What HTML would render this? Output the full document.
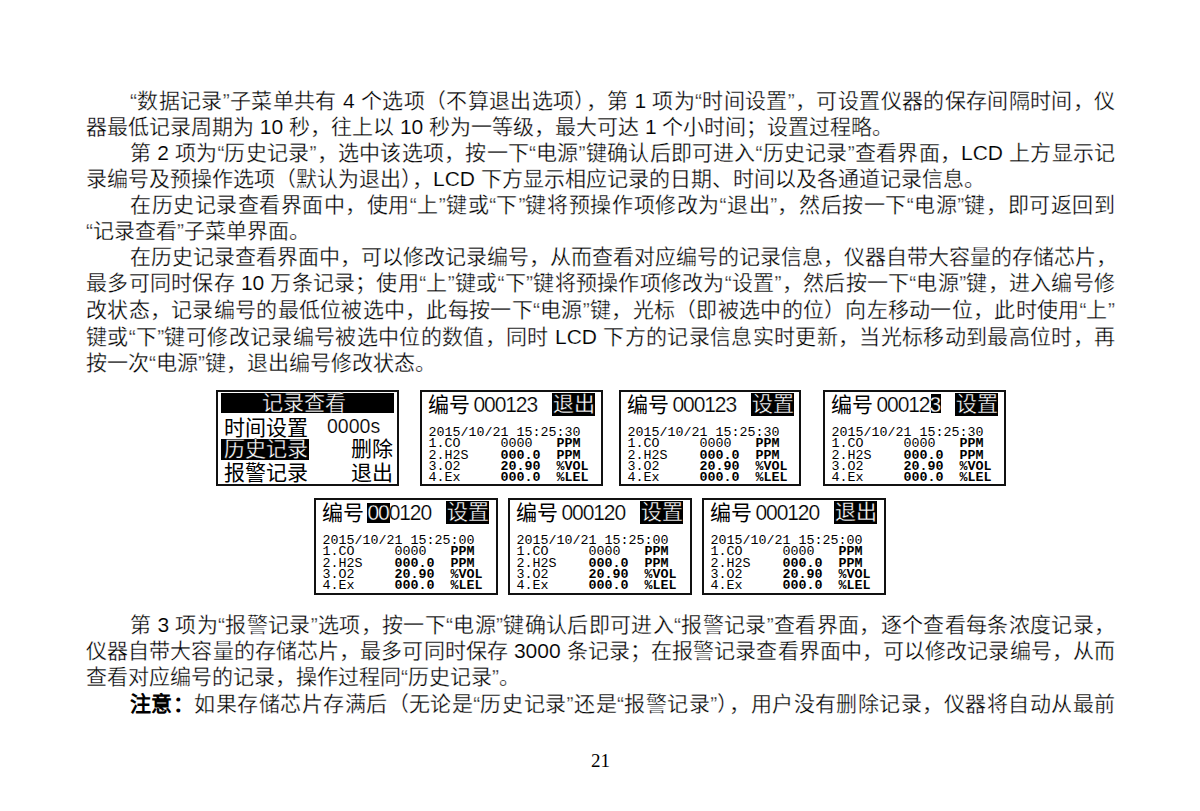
<!DOCTYPE html>
<html lang="zh-CN"><head><meta charset="utf-8">
<style>
html,body{margin:0;padding:0;background:#fff;}
body{width:1200px;height:811px;position:relative;overflow:hidden;font-family:"Liberation Sans",sans-serif;color:#000;}
.ln{position:absolute;left:86px;width:1029px;font-size:21px;line-height:26px;height:26px;white-space:nowrap;-webkit-text-stroke:0.3px #fff;}
.j{text-align:justify;text-align-last:justify;}
.i{left:130px;width:985px;}
.bx{position:absolute;box-sizing:border-box;width:183px;height:96px;border:2px solid #111;background:#fff;}
.bx .a{position:absolute;white-space:nowrap;}
.cj{font-size:21px;line-height:26px;}
.inv{background:#000;color:#fff;}
.bx .w{color:#fff;-webkit-text-stroke:0.3px #000;}
.num{font-size:21px;line-height:22px;letter-spacing:-1.1px;-webkit-text-stroke:0.2px #fff;transform:scaleY(1.08);transform-origin:0 0;}
.bx .dat{font-family:"Liberation Mono",monospace;font-size:13.33px;line-height:11.25px;white-space:pre;}
.dat i{font-style:normal;}
.dat b i{font-weight:bold;}
.ln b,.ln .l{-webkit-text-stroke:0;}
.pg{position:absolute;left:591px;top:749px;font-family:"Liberation Serif",serif;font-size:19px;line-height:24px;}
.sl{position:absolute;left:0;width:1200px;height:26px;font-size:21px;line-height:26px;white-space:pre;-webkit-text-stroke:0.3px #fff;}
.sl i{position:absolute;top:0;font-style:normal;}
.sl i.l{-webkit-text-stroke:0.15px #fff;}
.sl i.b{font-weight:bold;-webkit-text-stroke:0;}
</style></head><body>
<div class="sl" style="top:88px"><i style="left:130px">“</i><i style="left:136.98px">数</i><i style="left:158.67px">据</i><i style="left:180.02px">记</i><i style="left:201.38px">录</i><i style="left:222.72px">”</i><i style="left:229.7px">子</i><i style="left:251.41px">菜</i><i style="left:272.75px">单</i><i style="left:294.09px">共</i><i style="left:315.44px">有</i><i class="l" style="left:342.98px">4</i><i style="left:360.84px">个</i><i style="left:382.19px">选</i><i style="left:403.53px">项</i><i style="left:424.88px">（</i><i style="left:446.23px">不</i><i style="left:467.58px">算</i><i style="left:488.92px">退</i><i style="left:510.27px">出</i><i style="left:531.61px">选</i><i style="left:552.95px">项</i><i style="left:574.3px">）</i><i style="left:585.66px">，</i><i style="left:607px">第</i><i class="l" style="left:634.53px">1</i><i style="left:652.39px">项</i><i style="left:673.73px">为</i><i style="left:695.08px">“</i><i style="left:702.08px">时</i><i style="left:723.77px">间</i><i style="left:745.11px">设</i><i style="left:766.45px">置</i><i style="left:787.81px">”</i><i style="left:794.8px">，</i><i style="left:816.48px">可</i><i style="left:837.84px">设</i><i style="left:859.19px">置</i><i style="left:880.53px">仪</i><i style="left:901.88px">器</i><i style="left:923.22px">的</i><i style="left:944.56px">保</i><i style="left:965.91px">存</i><i style="left:987.27px">间</i><i style="left:1008.61px">隔</i><i style="left:1029.95px">时</i><i style="left:1051.3px">间</i><i style="left:1072.64px">，</i><i style="left:1093.98px">仪</i></div>
<div class="sl" style="top:114px"><i style="left:86px">器</i><i style="left:107px">最</i><i style="left:128px">低</i><i style="left:149px">记</i><i style="left:170px">录</i><i style="left:191px">周</i><i style="left:212px">期</i><i style="left:233px">为</i><i class="l" style="left:259.84px">10</i><i style="left:289.03px">秒</i><i style="left:310.03px">，</i><i style="left:331.03px">往</i><i style="left:352.03px">上</i><i style="left:373.03px">以</i><i class="l" style="left:399.88px">10</i><i style="left:429.06px">秒</i><i style="left:450.06px">为</i><i style="left:471.06px">一</i><i style="left:492.06px">等</i><i style="left:513.06px">级</i><i style="left:534.06px">，</i><i style="left:555.06px">最</i><i style="left:576.06px">大</i><i style="left:597.06px">可</i><i style="left:618.06px">达</i><i class="l" style="left:644.91px">1</i><i style="left:662.42px">个</i><i style="left:683.42px">小</i><i style="left:704.42px">时</i><i style="left:725.42px">间</i><i style="left:746.42px">；</i><i style="left:767.42px">设</i><i style="left:788.42px">置</i><i style="left:809.42px">过</i><i style="left:830.42px">程</i><i style="left:851.42px">略</i><i style="left:872.42px">。</i></div>
<div class="sl" style="top:140px"><i style="left:130px">第</i><i class="l" style="left:157.28px">2</i><i style="left:175.02px">项</i><i style="left:196.23px">为</i><i style="left:217.45px">“</i><i style="left:224.45px">历</i><i style="left:245.89px">史</i><i style="left:267.11px">记</i><i style="left:288.33px">录</i><i style="left:309.55px">”</i><i style="left:316.55px">，</i><i style="left:337.98px">选</i><i style="left:359.2px">中</i><i style="left:380.42px">该</i><i style="left:401.66px">选</i><i style="left:422.88px">项</i><i style="left:444.09px">，</i><i style="left:465.31px">按</i><i style="left:486.53px">一</i><i style="left:507.75px">下</i><i style="left:528.97px">“</i><i style="left:535.97px">电</i><i style="left:557.41px">源</i><i style="left:578.62px">”</i><i style="left:585.62px">键</i><i style="left:607.06px">确</i><i style="left:628.28px">认</i><i style="left:649.5px">后</i><i style="left:670.72px">即</i><i style="left:691.95px">可</i><i style="left:713.17px">进</i><i style="left:734.39px">入</i><i style="left:755.61px">“</i><i style="left:762.61px">历</i><i style="left:784.05px">史</i><i style="left:805.27px">记</i><i style="left:826.48px">录</i><i style="left:847.7px">”</i><i style="left:854.7px">查</i><i style="left:876.14px">看</i><i style="left:897.36px">界</i><i style="left:918.58px">面</i><i style="left:939.8px">，</i><i class="l" style="left:961.03px">LCD</i><i style="left:1009.09px">上</i><i style="left:1030.31px">方</i><i style="left:1051.53px">显</i><i style="left:1072.75px">示</i><i style="left:1093.98px">记</i></div>
<div class="sl" style="top:166px"><i style="left:86px">录</i><i style="left:107px">编</i><i style="left:128px">号</i><i style="left:149px">及</i><i style="left:170px">预</i><i style="left:191px">操</i><i style="left:212px">作</i><i style="left:233px">选</i><i style="left:254px">项</i><i style="left:275px">（</i><i style="left:296px">默</i><i style="left:317px">认</i><i style="left:338px">为</i><i style="left:359px">退</i><i style="left:380px">出</i><i style="left:401px">）</i><i style="left:412px">，</i><i class="l" style="left:433px">LCD</i><i style="left:480.84px">下</i><i style="left:501.84px">方</i><i style="left:522.84px">显</i><i style="left:543.84px">示</i><i style="left:564.84px">相</i><i style="left:585.84px">应</i><i style="left:606.84px">记</i><i style="left:627.84px">录</i><i style="left:648.84px">的</i><i style="left:669.84px">日</i><i style="left:690.84px">期</i><i style="left:711.84px">、</i><i style="left:732.84px">时</i><i style="left:753.84px">间</i><i style="left:774.84px">以</i><i style="left:795.84px">及</i><i style="left:816.84px">各</i><i style="left:837.84px">通</i><i style="left:858.84px">道</i><i style="left:879.84px">记</i><i style="left:900.84px">录</i><i style="left:921.84px">信</i><i style="left:942.84px">息</i><i style="left:963.84px">。</i></div>
<div class="sl" style="top:192px"><i style="left:130px">在</i><i style="left:151.52px">历</i><i style="left:173.03px">史</i><i style="left:194.56px">记</i><i style="left:216.08px">录</i><i style="left:237.59px">查</i><i style="left:259.12px">看</i><i style="left:280.64px">界</i><i style="left:302.16px">面</i><i style="left:323.69px">中</i><i style="left:345.2px">，</i><i style="left:366.72px">使</i><i style="left:388.25px">用</i><i style="left:409.77px">“</i><i style="left:416.75px">上</i><i style="left:438.8px">”</i><i style="left:445.8px">键</i><i style="left:467.83px">或</i><i style="left:489.36px">“</i><i style="left:496.34px">下</i><i style="left:518.39px">”</i><i style="left:525.39px">键</i><i style="left:547.42px">将</i><i style="left:568.95px">预</i><i style="left:590.47px">操</i><i style="left:611.98px">作</i><i style="left:633.52px">项</i><i style="left:655.03px">修</i><i style="left:676.55px">改</i><i style="left:698.08px">为</i><i style="left:719.59px">“</i><i style="left:726.59px">退</i><i style="left:748.62px">出</i><i style="left:770.16px">”</i><i style="left:777.14px">，</i><i style="left:799.19px">然</i><i style="left:820.7px">后</i><i style="left:842.22px">按</i><i style="left:863.75px">一</i><i style="left:885.27px">下</i><i style="left:906.78px">“</i><i style="left:913.78px">电</i><i style="left:935.83px">源</i><i style="left:957.34px">”</i><i style="left:964.34px">键</i><i style="left:986.38px">，</i><i style="left:1007.91px">即</i><i style="left:1029.42px">可</i><i style="left:1050.94px">返</i><i style="left:1072.47px">回</i><i style="left:1093.98px">到</i></div>
<div class="sl" style="top:218px"><i style="left:86px">“</i><i style="left:92.98px">记</i><i style="left:113.98px">录</i><i style="left:134.98px">查</i><i style="left:155.98px">看</i><i style="left:176.98px">”</i><i style="left:183.98px">子</i><i style="left:204.98px">菜</i><i style="left:225.98px">单</i><i style="left:246.98px">界</i><i style="left:267.98px">面</i><i style="left:288.98px">。</i></div>
<div class="sl" style="top:244px"><i style="left:130px">在</i><i style="left:151px">历</i><i style="left:172px">史</i><i style="left:193px">记</i><i style="left:214px">录</i><i style="left:235px">查</i><i style="left:256px">看</i><i style="left:277px">界</i><i style="left:298px">面</i><i style="left:319px">中</i><i style="left:340px">，</i><i style="left:361px">可</i><i style="left:382px">以</i><i style="left:403px">修</i><i style="left:424px">改</i><i style="left:445px">记</i><i style="left:466px">录</i><i style="left:487px">编</i><i style="left:508px">号</i><i style="left:529px">，</i><i style="left:550px">从</i><i style="left:571px">而</i><i style="left:592px">查</i><i style="left:613px">看</i><i style="left:634px">对</i><i style="left:655px">应</i><i style="left:676px">编</i><i style="left:697px">号</i><i style="left:718px">的</i><i style="left:739px">记</i><i style="left:760px">录</i><i style="left:781px">信</i><i style="left:802px">息</i><i style="left:823px">，</i><i style="left:844px">仪</i><i style="left:865px">器</i><i style="left:886px">自</i><i style="left:907px">带</i><i style="left:928px">大</i><i style="left:949px">容</i><i style="left:970px">量</i><i style="left:991px">的</i><i style="left:1012px">存</i><i style="left:1033px">储</i><i style="left:1054px">芯</i><i style="left:1075px">片</i><i style="left:1096px">，</i></div>
<div class="sl" style="top:270px"><i style="left:86px">最</i><i style="left:107.25px">多</i><i style="left:128.52px">可</i><i style="left:149.78px">同</i><i style="left:171.05px">时</i><i style="left:192.31px">保</i><i style="left:213.58px">存</i><i class="l" style="left:240.95px">10</i><i style="left:270.41px">万</i><i style="left:291.67px">条</i><i style="left:312.94px">记</i><i style="left:334.2px">录</i><i style="left:355.47px">；</i><i style="left:376.47px">使</i><i style="left:397.98px">用</i><i style="left:419.25px">“</i><i style="left:426.25px">上</i><i style="left:447.78px">”</i><i style="left:454.77px">键</i><i style="left:476.3px">或</i><i style="left:497.56px">“</i><i style="left:504.56px">下</i><i style="left:526.08px">”</i><i style="left:533.08px">键</i><i style="left:554.61px">将</i><i style="left:575.88px">预</i><i style="left:597.14px">操</i><i style="left:618.41px">作</i><i style="left:639.67px">项</i><i style="left:660.92px">修</i><i style="left:682.19px">改</i><i style="left:703.45px">为</i><i style="left:724.72px">“</i><i style="left:731.72px">设</i><i style="left:753.25px">置</i><i style="left:774.52px">”</i><i style="left:781.5px">，</i><i style="left:803.03px">然</i><i style="left:824.3px">后</i><i style="left:845.56px">按</i><i style="left:866.83px">一</i><i style="left:888.09px">下</i><i style="left:909.36px">“</i><i style="left:916.34px">电</i><i style="left:937.88px">源</i><i style="left:959.14px">”</i><i style="left:966.14px">键</i><i style="left:987.66px">，</i><i style="left:1008.92px">进</i><i style="left:1030.19px">入</i><i style="left:1051.45px">编</i><i style="left:1072.72px">号</i><i style="left:1093.98px">修</i></div>
<div class="sl" style="top:297px"><i style="left:86px">改</i><i style="left:107.27px">状</i><i style="left:128.55px">态</i><i style="left:149.83px">，</i><i style="left:171.11px">记</i><i style="left:192.39px">录</i><i style="left:213.67px">编</i><i style="left:234.95px">号</i><i style="left:256.23px">的</i><i style="left:277.52px">最</i><i style="left:298.8px">低</i><i style="left:320.08px">位</i><i style="left:341.36px">被</i><i style="left:362.64px">选</i><i style="left:383.92px">中</i><i style="left:405.2px">，</i><i style="left:426.48px">此</i><i style="left:447.75px">每</i><i style="left:469.03px">按</i><i style="left:490.31px">一</i><i style="left:511.59px">下</i><i style="left:532.88px">“</i><i style="left:539.88px">电</i><i style="left:561.44px">源</i><i style="left:582.72px">”</i><i style="left:589.7px">键</i><i style="left:611.27px">，</i><i style="left:632.55px">光</i><i style="left:653.83px">标</i><i style="left:675.11px">（</i><i style="left:696.39px">即</i><i style="left:717.67px">被</i><i style="left:738.95px">选</i><i style="left:760.23px">中</i><i style="left:781.52px">的</i><i style="left:802.8px">位</i><i style="left:824.06px">）</i><i style="left:845.34px">向</i><i style="left:866.62px">左</i><i style="left:887.91px">移</i><i style="left:909.19px">动</i><i style="left:930.47px">一</i><i style="left:951.75px">位</i><i style="left:973.03px">，</i><i style="left:994.31px">此</i><i style="left:1015.59px">时</i><i style="left:1036.88px">使</i><i style="left:1058.16px">用</i><i style="left:1079.44px">“</i><i style="left:1086.42px">上</i><i style="left:1107.98px">”</i></div>
<div class="sl" style="top:324px"><i style="left:86px">键</i><i style="left:107.33px">或</i><i style="left:128.67px">“</i><i style="left:135.67px">下</i><i style="left:157.34px">”</i><i style="left:164.34px">键</i><i style="left:186.02px">可</i><i style="left:207.36px">修</i><i style="left:228.7px">改</i><i style="left:250.03px">记</i><i style="left:271.38px">录</i><i style="left:292.72px">编</i><i style="left:314.06px">号</i><i style="left:335.39px">被</i><i style="left:356.73px">选</i><i style="left:378.08px">中</i><i style="left:399.42px">位</i><i style="left:420.75px">的</i><i style="left:442.09px">数</i><i style="left:463.44px">值</i><i style="left:484.78px">，</i><i style="left:506.11px">同</i><i style="left:527.45px">时</i><i class="l" style="left:554.98px">LCD</i><i style="left:603.17px">下</i><i style="left:624.5px">方</i><i style="left:645.84px">的</i><i style="left:667.19px">记</i><i style="left:688.53px">录</i><i style="left:709.86px">信</i><i style="left:731.2px">息</i><i style="left:752.55px">实</i><i style="left:773.89px">时</i><i style="left:795.22px">更</i><i style="left:816.56px">新</i><i style="left:837.91px">，</i><i style="left:859.25px">当</i><i style="left:880.58px">光</i><i style="left:901.92px">标</i><i style="left:923.27px">移</i><i style="left:944.61px">动</i><i style="left:965.94px">到</i><i style="left:987.28px">最</i><i style="left:1008.62px">高</i><i style="left:1029.97px">位</i><i style="left:1051.3px">时</i><i style="left:1072.64px">，</i><i style="left:1093.98px">再</i></div>
<div class="sl" style="top:350px"><i style="left:86px">按</i><i style="left:107px">一</i><i style="left:128px">次</i><i style="left:149px">“</i><i style="left:155.98px">电</i><i style="left:176.98px">源</i><i style="left:197.98px">”</i><i style="left:204.98px">键</i><i style="left:225.98px">，</i><i style="left:246.98px">退</i><i style="left:267.98px">出</i><i style="left:288.98px">编</i><i style="left:309.98px">号</i><i style="left:330.98px">修</i><i style="left:351.98px">改</i><i style="left:372.98px">状</i><i style="left:393.98px">态</i><i style="left:414.98px">。</i></div>
<div class="bx" style="left:216px;top:390px"><div class="a inv" style="left:3px;top:0.5px;width:173px;height:20.5px"></div><div class="a cj w" style="left:44px;top:-2px;">记</div><div class="a cj w" style="left:65px;top:-2px;">录</div><div class="a cj w" style="left:86px;top:-2px;">查</div><div class="a cj w" style="left:107px;top:-2px;">看</div><div class="a cj" style="left:6px;top:22.5px;">时</div><div class="a cj" style="left:27px;top:22.5px;">间</div><div class="a cj" style="left:48px;top:22.5px;">设</div><div class="a cj" style="left:69px;top:22.5px;">置</div><div class="a num" style="left:109px;top:22px;font-size:19.5px;letter-spacing:0">0000s</div><div class="a inv" style="left:3px;top:47px;width:88px;height:21px"></div><div class="a cj w" style="left:6px;top:44px;">历</div><div class="a cj w" style="left:27px;top:44px;">史</div><div class="a cj w" style="left:48px;top:44px;">记</div><div class="a cj w" style="left:69px;top:44px;">录</div><div class="a cj" style="left:133px;top:44px;">删</div><div class="a cj" style="left:154px;top:44px;">除</div><div class="a cj" style="left:6px;top:67.5px;">报</div><div class="a cj" style="left:27px;top:67.5px;">警</div><div class="a cj" style="left:48px;top:67.5px;">记</div><div class="a cj" style="left:69px;top:67.5px;">录</div><div class="a cj" style="left:133px;top:67.5px;">退</div><div class="a cj" style="left:154px;top:67.5px;">出</div></div>
<div class="bx" style="left:420px;top:390px;width:183px;height:96px"><div class="a cj" style="left:6px;top:0px;">编</div><div class="a cj" style="left:27px;top:0px;">号</div><div class="a num" style="left:51.5px;top:1px;">000123</div><div class="a inv" style="left:129.5px;top:0.5px;width:43px;height:23.5px"></div><div class="a cj w" style="left:131px;top:-1px;">退</div><div class="a cj w" style="left:152px;top:-1px;">出</div><div class="a dat" style="left:6.5px;top:35.1px;"><i>2</i><i>0</i><i>1</i><i>5</i><i>/</i><i>1</i><i>0</i><i>/</i><i>2</i><i>1</i><i>&nbsp;</i><i>1</i><i>5</i><i>:</i><i>2</i><i>5</i><i>:</i><i>3</i><i>0</i><br><i>1</i><i>.</i><i>C</i><i>O</i><i>&nbsp;</i><i>&nbsp;</i><i>&nbsp;</i><i>&nbsp;</i><i>&nbsp;</i><i>0</i><i>0</i><i>0</i><i>0</i><i>&nbsp;</i><i>&nbsp;</i><i>&nbsp;</i><b><i>P</i><i>P</i><i>M</i></b><br><i>2</i><i>.</i><i>H</i><i>2</i><i>S</i><i>&nbsp;</i><i>&nbsp;</i><i>&nbsp;</i><i>&nbsp;</i><b><i>0</i><i>0</i><i>0</i><i>.</i><i>0</i></b><i>&nbsp;</i><i>&nbsp;</i><b><i>P</i><i>P</i><i>M</i></b><br><i>3</i><i>.</i><i>O</i><i>2</i><i>&nbsp;</i><i>&nbsp;</i><i>&nbsp;</i><i>&nbsp;</i><i>&nbsp;</i><b><i>2</i><i>0</i><i>.</i><i>9</i><i>0</i></b><i>&nbsp;</i><i>&nbsp;</i><b><i>%</i><i>V</i><i>O</i><i>L</i></b><br><i>4</i><i>.</i><i>E</i><i>x</i><i>&nbsp;</i><i>&nbsp;</i><i>&nbsp;</i><i>&nbsp;</i><i>&nbsp;</i><b><i>0</i><i>0</i><i>0</i><i>.</i><i>0</i></b><i>&nbsp;</i><i>&nbsp;</i><b><i>%</i><i>L</i><i>E</i><i>L</i></b></div></div>
<div class="bx" style="left:619px;top:390px;width:182px;height:96px"><div class="a cj" style="left:6px;top:0px;">编</div><div class="a cj" style="left:27px;top:0px;">号</div><div class="a num" style="left:51.5px;top:1px;">000123</div><div class="a inv" style="left:129.5px;top:0.5px;width:43px;height:23.5px"></div><div class="a cj w" style="left:131px;top:-1px;">设</div><div class="a cj w" style="left:152px;top:-1px;">置</div><div class="a dat" style="left:6.5px;top:35.1px;"><i>2</i><i>0</i><i>1</i><i>5</i><i>/</i><i>1</i><i>0</i><i>/</i><i>2</i><i>1</i><i>&nbsp;</i><i>1</i><i>5</i><i>:</i><i>2</i><i>5</i><i>:</i><i>3</i><i>0</i><br><i>1</i><i>.</i><i>C</i><i>O</i><i>&nbsp;</i><i>&nbsp;</i><i>&nbsp;</i><i>&nbsp;</i><i>&nbsp;</i><i>0</i><i>0</i><i>0</i><i>0</i><i>&nbsp;</i><i>&nbsp;</i><i>&nbsp;</i><b><i>P</i><i>P</i><i>M</i></b><br><i>2</i><i>.</i><i>H</i><i>2</i><i>S</i><i>&nbsp;</i><i>&nbsp;</i><i>&nbsp;</i><i>&nbsp;</i><b><i>0</i><i>0</i><i>0</i><i>.</i><i>0</i></b><i>&nbsp;</i><i>&nbsp;</i><b><i>P</i><i>P</i><i>M</i></b><br><i>3</i><i>.</i><i>O</i><i>2</i><i>&nbsp;</i><i>&nbsp;</i><i>&nbsp;</i><i>&nbsp;</i><i>&nbsp;</i><b><i>2</i><i>0</i><i>.</i><i>9</i><i>0</i></b><i>&nbsp;</i><i>&nbsp;</i><b><i>%</i><i>V</i><i>O</i><i>L</i></b><br><i>4</i><i>.</i><i>E</i><i>x</i><i>&nbsp;</i><i>&nbsp;</i><i>&nbsp;</i><i>&nbsp;</i><i>&nbsp;</i><b><i>0</i><i>0</i><i>0</i><i>.</i><i>0</i></b><i>&nbsp;</i><i>&nbsp;</i><b><i>%</i><i>L</i><i>E</i><i>L</i></b></div></div>
<div class="bx" style="left:823px;top:390px;width:183px;height:96px"><div class="a cj" style="left:6px;top:0px;">编</div><div class="a cj" style="left:27px;top:0px;">号</div><div class="a inv" style="left:105.5px;top:1.7px;width:10px;height:19.3px"></div><div class="a num" style="left:51.5px;top:1px;">00012<span class="w">3</span></div><div class="a inv" style="left:129.5px;top:0.5px;width:43px;height:23.5px"></div><div class="a cj w" style="left:131px;top:-1px;">设</div><div class="a cj w" style="left:152px;top:-1px;">置</div><div class="a dat" style="left:6.5px;top:35.1px;"><i>2</i><i>0</i><i>1</i><i>5</i><i>/</i><i>1</i><i>0</i><i>/</i><i>2</i><i>1</i><i>&nbsp;</i><i>1</i><i>5</i><i>:</i><i>2</i><i>5</i><i>:</i><i>3</i><i>0</i><br><i>1</i><i>.</i><i>C</i><i>O</i><i>&nbsp;</i><i>&nbsp;</i><i>&nbsp;</i><i>&nbsp;</i><i>&nbsp;</i><i>0</i><i>0</i><i>0</i><i>0</i><i>&nbsp;</i><i>&nbsp;</i><i>&nbsp;</i><b><i>P</i><i>P</i><i>M</i></b><br><i>2</i><i>.</i><i>H</i><i>2</i><i>S</i><i>&nbsp;</i><i>&nbsp;</i><i>&nbsp;</i><i>&nbsp;</i><b><i>0</i><i>0</i><i>0</i><i>.</i><i>0</i></b><i>&nbsp;</i><i>&nbsp;</i><b><i>P</i><i>P</i><i>M</i></b><br><i>3</i><i>.</i><i>O</i><i>2</i><i>&nbsp;</i><i>&nbsp;</i><i>&nbsp;</i><i>&nbsp;</i><i>&nbsp;</i><b><i>2</i><i>0</i><i>.</i><i>9</i><i>0</i></b><i>&nbsp;</i><i>&nbsp;</i><b><i>%</i><i>V</i><i>O</i><i>L</i></b><br><i>4</i><i>.</i><i>E</i><i>x</i><i>&nbsp;</i><i>&nbsp;</i><i>&nbsp;</i><i>&nbsp;</i><i>&nbsp;</i><b><i>0</i><i>0</i><i>0</i><i>.</i><i>0</i></b><i>&nbsp;</i><i>&nbsp;</i><b><i>%</i><i>L</i><i>E</i><i>L</i></b></div></div>
<div class="bx" style="left:314px;top:498px;width:184px;height:97px"><div class="a cj" style="left:6px;top:0px;">编</div><div class="a cj" style="left:27px;top:0px;">号</div><div class="a inv" style="left:51px;top:3.4px;width:23px;height:20px"></div><div class="a num" style="left:51.5px;top:1px;"><span class="w">00</span>0120</div><div class="a inv" style="left:129.5px;top:0.5px;width:43px;height:23.5px"></div><div class="a cj w" style="left:131px;top:-1px;">设</div><div class="a cj w" style="left:152px;top:-1px;">置</div><div class="a dat" style="left:6.5px;top:35.1px;"><i>2</i><i>0</i><i>1</i><i>5</i><i>/</i><i>1</i><i>0</i><i>/</i><i>2</i><i>1</i><i>&nbsp;</i><i>1</i><i>5</i><i>:</i><i>2</i><i>5</i><i>:</i><i>0</i><i>0</i><br><i>1</i><i>.</i><i>C</i><i>O</i><i>&nbsp;</i><i>&nbsp;</i><i>&nbsp;</i><i>&nbsp;</i><i>&nbsp;</i><i>0</i><i>0</i><i>0</i><i>0</i><i>&nbsp;</i><i>&nbsp;</i><i>&nbsp;</i><b><i>P</i><i>P</i><i>M</i></b><br><i>2</i><i>.</i><i>H</i><i>2</i><i>S</i><i>&nbsp;</i><i>&nbsp;</i><i>&nbsp;</i><i>&nbsp;</i><b><i>0</i><i>0</i><i>0</i><i>.</i><i>0</i></b><i>&nbsp;</i><i>&nbsp;</i><b><i>P</i><i>P</i><i>M</i></b><br><i>3</i><i>.</i><i>O</i><i>2</i><i>&nbsp;</i><i>&nbsp;</i><i>&nbsp;</i><i>&nbsp;</i><i>&nbsp;</i><b><i>2</i><i>0</i><i>.</i><i>9</i><i>0</i></b><i>&nbsp;</i><i>&nbsp;</i><b><i>%</i><i>V</i><i>O</i><i>L</i></b><br><i>4</i><i>.</i><i>E</i><i>x</i><i>&nbsp;</i><i>&nbsp;</i><i>&nbsp;</i><i>&nbsp;</i><i>&nbsp;</i><b><i>0</i><i>0</i><i>0</i><i>.</i><i>0</i></b><i>&nbsp;</i><i>&nbsp;</i><b><i>%</i><i>L</i><i>E</i><i>L</i></b></div></div>
<div class="bx" style="left:508px;top:498px;width:184px;height:97px"><div class="a cj" style="left:6px;top:0px;">编</div><div class="a cj" style="left:27px;top:0px;">号</div><div class="a num" style="left:51.5px;top:1px;">000120</div><div class="a inv" style="left:129.5px;top:0.5px;width:43px;height:23.5px"></div><div class="a cj w" style="left:131px;top:-1px;">设</div><div class="a cj w" style="left:152px;top:-1px;">置</div><div class="a dat" style="left:6.5px;top:35.1px;"><i>2</i><i>0</i><i>1</i><i>5</i><i>/</i><i>1</i><i>0</i><i>/</i><i>2</i><i>1</i><i>&nbsp;</i><i>1</i><i>5</i><i>:</i><i>2</i><i>5</i><i>:</i><i>0</i><i>0</i><br><i>1</i><i>.</i><i>C</i><i>O</i><i>&nbsp;</i><i>&nbsp;</i><i>&nbsp;</i><i>&nbsp;</i><i>&nbsp;</i><i>0</i><i>0</i><i>0</i><i>0</i><i>&nbsp;</i><i>&nbsp;</i><i>&nbsp;</i><b><i>P</i><i>P</i><i>M</i></b><br><i>2</i><i>.</i><i>H</i><i>2</i><i>S</i><i>&nbsp;</i><i>&nbsp;</i><i>&nbsp;</i><i>&nbsp;</i><b><i>0</i><i>0</i><i>0</i><i>.</i><i>0</i></b><i>&nbsp;</i><i>&nbsp;</i><b><i>P</i><i>P</i><i>M</i></b><br><i>3</i><i>.</i><i>O</i><i>2</i><i>&nbsp;</i><i>&nbsp;</i><i>&nbsp;</i><i>&nbsp;</i><i>&nbsp;</i><b><i>2</i><i>0</i><i>.</i><i>9</i><i>0</i></b><i>&nbsp;</i><i>&nbsp;</i><b><i>%</i><i>V</i><i>O</i><i>L</i></b><br><i>4</i><i>.</i><i>E</i><i>x</i><i>&nbsp;</i><i>&nbsp;</i><i>&nbsp;</i><i>&nbsp;</i><i>&nbsp;</i><b><i>0</i><i>0</i><i>0</i><i>.</i><i>0</i></b><i>&nbsp;</i><i>&nbsp;</i><b><i>%</i><i>L</i><i>E</i><i>L</i></b></div></div>
<div class="bx" style="left:702px;top:498px;width:184px;height:97px"><div class="a cj" style="left:6px;top:0px;">编</div><div class="a cj" style="left:27px;top:0px;">号</div><div class="a num" style="left:51.5px;top:1px;">000120</div><div class="a inv" style="left:129.5px;top:0.5px;width:43px;height:23.5px"></div><div class="a cj w" style="left:131px;top:-1px;">退</div><div class="a cj w" style="left:152px;top:-1px;">出</div><div class="a dat" style="left:6.5px;top:35.1px;"><i>2</i><i>0</i><i>1</i><i>5</i><i>/</i><i>1</i><i>0</i><i>/</i><i>2</i><i>1</i><i>&nbsp;</i><i>1</i><i>5</i><i>:</i><i>2</i><i>5</i><i>:</i><i>0</i><i>0</i><br><i>1</i><i>.</i><i>C</i><i>O</i><i>&nbsp;</i><i>&nbsp;</i><i>&nbsp;</i><i>&nbsp;</i><i>&nbsp;</i><i>0</i><i>0</i><i>0</i><i>0</i><i>&nbsp;</i><i>&nbsp;</i><i>&nbsp;</i><b><i>P</i><i>P</i><i>M</i></b><br><i>2</i><i>.</i><i>H</i><i>2</i><i>S</i><i>&nbsp;</i><i>&nbsp;</i><i>&nbsp;</i><i>&nbsp;</i><b><i>0</i><i>0</i><i>0</i><i>.</i><i>0</i></b><i>&nbsp;</i><i>&nbsp;</i><b><i>P</i><i>P</i><i>M</i></b><br><i>3</i><i>.</i><i>O</i><i>2</i><i>&nbsp;</i><i>&nbsp;</i><i>&nbsp;</i><i>&nbsp;</i><i>&nbsp;</i><b><i>2</i><i>0</i><i>.</i><i>9</i><i>0</i></b><i>&nbsp;</i><i>&nbsp;</i><b><i>%</i><i>V</i><i>O</i><i>L</i></b><br><i>4</i><i>.</i><i>E</i><i>x</i><i>&nbsp;</i><i>&nbsp;</i><i>&nbsp;</i><i>&nbsp;</i><i>&nbsp;</i><b><i>0</i><i>0</i><i>0</i><i>.</i><i>0</i></b><i>&nbsp;</i><i>&nbsp;</i><b><i>%</i><i>L</i><i>E</i><i>L</i></b></div></div>
<div class="sl" style="top:612px"><i style="left:130px">第</i><i class="l" style="left:157.52px">3</i><i style="left:175.36px">项</i><i style="left:196.7px">为</i><i style="left:218.03px">“</i><i style="left:225.02px">报</i><i style="left:246.69px">警</i><i style="left:268.03px">记</i><i style="left:289.36px">录</i><i style="left:310.69px">”</i><i style="left:317.69px">选</i><i style="left:339.34px">项</i><i style="left:360.69px">，</i><i style="left:382.02px">按</i><i style="left:403.34px">一</i><i style="left:424.69px">下</i><i style="left:446.02px">“</i><i style="left:453.02px">电</i><i style="left:474.67px">源</i><i style="left:496.02px">”</i><i style="left:503px">键</i><i style="left:524.67px">确</i><i style="left:546px">认</i><i style="left:567.34px">后</i><i style="left:588.67px">即</i><i style="left:610px">可</i><i style="left:631.34px">进</i><i style="left:652.67px">入</i><i style="left:674px">“</i><i style="left:681px">报</i><i style="left:702.67px">警</i><i style="left:724px">记</i><i style="left:745.33px">录</i><i style="left:766.67px">”</i><i style="left:773.66px">查</i><i style="left:795.33px">看</i><i style="left:816.66px">界</i><i style="left:838px">面</i><i style="left:859.33px">，</i><i style="left:880.66px">逐</i><i style="left:902px">个</i><i style="left:923.33px">查</i><i style="left:944.66px">看</i><i style="left:966px">每</i><i style="left:987.33px">条</i><i style="left:1008.66px">浓</i><i style="left:1030px">度</i><i style="left:1051.33px">记</i><i style="left:1072.66px">录</i><i style="left:1094px">，</i></div>
<div class="sl" style="top:638px"><i style="left:86px">仪</i><i style="left:107.09px">器</i><i style="left:128.19px">自</i><i style="left:149.28px">带</i><i style="left:170.39px">大</i><i style="left:191.48px">容</i><i style="left:212.58px">量</i><i style="left:233.67px">的</i><i style="left:254.78px">存</i><i style="left:275.88px">储</i><i style="left:296.97px">芯</i><i style="left:318.06px">片</i><i style="left:339.17px">，</i><i style="left:360.27px">最</i><i style="left:381.36px">多</i><i style="left:402.45px">可</i><i style="left:423.56px">同</i><i style="left:444.66px">时</i><i style="left:465.75px">保</i><i style="left:486.84px">存</i><i class="l" style="left:513.89px">3000</i><i style="left:566.53px">条</i><i style="left:587.62px">记</i><i style="left:608.73px">录</i><i style="left:629.83px">；</i><i style="left:650.83px">在</i><i style="left:672.02px">报</i><i style="left:693.12px">警</i><i style="left:714.22px">记</i><i style="left:735.31px">录</i><i style="left:756.41px">查</i><i style="left:777.52px">看</i><i style="left:798.61px">界</i><i style="left:819.7px">面</i><i style="left:840.8px">中</i><i style="left:861.91px">，</i><i style="left:883px">可</i><i style="left:904.09px">以</i><i style="left:925.19px">修</i><i style="left:946.3px">改</i><i style="left:967.39px">记</i><i style="left:988.48px">录</i><i style="left:1009.59px">编</i><i style="left:1030.69px">号</i><i style="left:1051.78px">，</i><i style="left:1072.88px">从</i><i style="left:1093.98px">而</i></div>
<div class="sl" style="top:664px"><i style="left:86px">查</i><i style="left:107px">看</i><i style="left:128px">对</i><i style="left:149px">应</i><i style="left:170px">编</i><i style="left:191px">号</i><i style="left:212px">的</i><i style="left:233px">记</i><i style="left:254px">录</i><i style="left:275px">，</i><i style="left:296px">操</i><i style="left:317px">作</i><i style="left:338px">过</i><i style="left:359px">程</i><i style="left:380px">同</i><i style="left:401px">“</i><i style="left:407.98px">历</i><i style="left:428.98px">史</i><i style="left:449.98px">记</i><i style="left:470.98px">录</i><i style="left:491.98px">”</i><i style="left:498.98px">。</i></div>
<div class="sl" style="top:691px"><i class="b" style="left:130px">注</i><i class="b" style="left:151.45px">意</i><i class="b" style="left:172.91px">：</i><i style="left:194.39px">如</i><i style="left:215.84px">果</i><i style="left:237.3px">存</i><i style="left:258.77px">储</i><i style="left:280.22px">芯</i><i style="left:301.67px">片</i><i style="left:323.14px">存</i><i style="left:344.59px">满</i><i style="left:366.05px">后</i><i style="left:387.52px">（</i><i style="left:408.97px">无</i><i style="left:430.42px">论</i><i style="left:451.89px">是</i><i style="left:473.34px">“</i><i style="left:480.34px">历</i><i style="left:502.25px">史</i><i style="left:523.72px">记</i><i style="left:545.17px">录</i><i style="left:566.62px">”</i><i style="left:573.62px">还</i><i style="left:595.55px">是</i><i style="left:617px">“</i><i style="left:624px">报</i><i style="left:645.91px">警</i><i style="left:667.38px">记</i><i style="left:688.83px">录</i><i style="left:710.28px">”</i><i style="left:717.28px">）</i><i style="left:729.2px">，</i><i style="left:750.66px">用</i><i style="left:772.11px">户</i><i style="left:793.58px">没</i><i style="left:815.03px">有</i><i style="left:836.48px">删</i><i style="left:857.95px">除</i><i style="left:879.41px">记</i><i style="left:900.86px">录</i><i style="left:922.33px">，</i><i style="left:943.78px">仪</i><i style="left:965.25px">器</i><i style="left:986.7px">将</i><i style="left:1008.16px">自</i><i style="left:1029.62px">动</i><i style="left:1051.08px">从</i><i style="left:1072.53px">最</i><i style="left:1094px">前</i></div>
<div class="pg">21</div>
</body></html>
